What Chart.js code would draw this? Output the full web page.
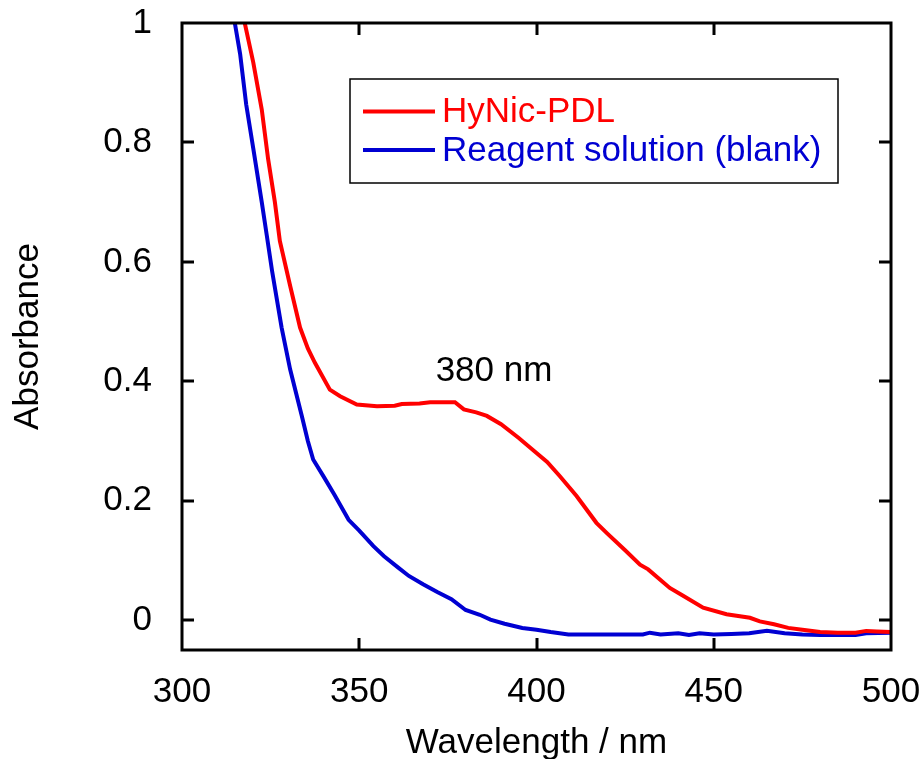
<!DOCTYPE html>
<html>
<head>
<meta charset="utf-8">
<script src="https://cdn.jsdelivr.net/npm/chart.js@4.4.1/dist/chart.umd.min.js"></script>
<style>
  html, body { margin: 0; padding: 0; background: #fff; }
  #wrap { width: 922px; height: 759px; }
</style>
</head>
<body>
<div id="wrap"><canvas id="spectrum" width="922" height="759"></canvas></div>
<script>
// Spectrum data
const hynicX = [317.7, 320.1, 322.5, 324.3, 326.2, 327.6, 330.5, 333.3, 335.5, 337.5, 341.7, 344.6, 349.3, 355, 360, 362, 367, 370, 377,
    379.5, 383, 386, 390, 395, 400, 403, 406.6, 411.3, 416.9, 420, 425, 429.2, 431.5, 437.6, 441, 447, 453.6, 460.2,
    463, 467, 471, 475, 480, 485, 490, 493, 496, 500];
const hynicY = [1.0, 0.934, 0.855, 0.772, 0.70, 0.635, 0.56, 0.49, 0.455, 0.431, 0.386, 0.375, 0.361, 0.358, 0.359, 0.362, 0.363, 0.365, 0.365,
    0.353, 0.348, 0.342, 0.328, 0.305, 0.28, 0.265, 0.241, 0.208, 0.163, 0.145, 0.117, 0.093, 0.085, 0.054, 0.042, 0.021, 0.01, 0.004,
    -0.002, -0.007, -0.013, -0.016, -0.02, -0.021, -0.021, -0.018, -0.019, -0.02];

const blankX = [314.9, 316.4, 318.1, 320.1, 322.5, 323.9, 325.4, 328.1, 330.5, 333.8, 335.5, 337, 340, 343, 347, 350, 354, 357, 361, 364, 368, 372,
    376, 380, 384, 387, 391, 396, 400, 404, 409, 420, 430, 432, 435, 440, 443, 446, 450, 455, 460, 465,
    470, 475, 480, 490, 493, 500];
const blankY = [1.0, 0.948, 0.864, 0.79, 0.70, 0.645, 0.585, 0.49, 0.42, 0.342, 0.300, 0.269, 0.24, 0.21, 0.168, 0.15, 0.124, 0.107, 0.088, 0.074, 0.06, 0.047,
    0.035, 0.017, 0.009, 0.001, -0.006, -0.013, -0.016, -0.02, -0.024, -0.024, -0.024, -0.021, -0.024, -0.022, -0.025, -0.022, -0.024, -0.023, -0.022, -0.018,
    -0.022, -0.024, -0.025, -0.025, -0.022, -0.021];

const seriesNames = ["HyNic-PDL", "Reagent solution (blank)"];
const seriesColors = ["#ff0000", "#0000d2"];
const yTickValues = [0, 0.2, 0.4, 0.6, 0.8, 1];
const xTickValues = [300, 350, 400, 450, 500];

const FONT = "Arial, 'Liberation Sans', sans-serif";
const FONT_SIZE = 35;

function toPoints(xs, ys) {
    return xs.map((x, i) => ({ x: x, y: ys[i] }));
}

// Frame, inward ticks on all four sides, legend box and the peak label
const decorations = {
    id: "decorations",
    afterDraw(chart) {
        const { ctx, chartArea: a, scales } = chart;
        const xs = scales.x, ys = scales.y;
        const tick = 12;
        ctx.save();
        ctx.strokeStyle = "#000";
        ctx.lineWidth = 3;
        ctx.strokeRect(a.left, a.top, a.right - a.left, a.bottom - a.top);

        ctx.beginPath();
        xTickValues.slice(1, -1).forEach(v => {
            const px = Math.round(xs.getPixelForValue(v));
            ctx.moveTo(px, a.bottom); ctx.lineTo(px, a.bottom - tick);
            ctx.moveTo(px, a.top); ctx.lineTo(px, a.top + tick);
        });
        yTickValues.slice(0, -1).forEach(v => {
            const py = Math.round(ys.getPixelForValue(v));
            ctx.moveTo(a.left, py); ctx.lineTo(a.left + tick, py);
            ctx.moveTo(a.right, py); ctx.lineTo(a.right - tick, py);
        });
        ctx.stroke();

        // legend
        ctx.lineWidth = 1.5;
        ctx.strokeRect(350, 79, 488, 104);
        const rows = [111.5, 150];
        ctx.font = FONT_SIZE + "px " + FONT;
        ctx.textBaseline = "middle";
        ctx.textAlign = "left";
        seriesNames.forEach((name, i) => {
            ctx.strokeStyle = seriesColors[i];
            ctx.lineWidth = 4;
            ctx.beginPath();
            ctx.moveTo(363, rows[i]);
            ctx.lineTo(435, rows[i]);
            ctx.stroke();
            ctx.fillStyle = seriesColors[i];
            ctx.fillText(name, 442, rows[i] + 1);
        });

        // peak annotation
        ctx.fillStyle = "#000";
        ctx.textAlign = "center";
        ctx.fillText("380 nm", 494, 371);
        ctx.restore();
    }
};

new Chart(document.getElementById("spectrum"), {
    type: "scatter",
    data: {
        datasets: [
            {
                label: seriesNames[0],
                data: toPoints(hynicX, hynicY),
                showLine: true,
                borderColor: seriesColors[0],
                borderWidth: 4,
                pointRadius: 0,
                tension: 0
            },
            {
                label: seriesNames[1],
                data: toPoints(blankX, blankY),
                showLine: true,
                borderColor: seriesColors[1],
                borderWidth: 4,
                pointRadius: 0,
                tension: 0
            }
        ]
    },
    options: {
        responsive: false,
        animation: false,
        layout: { padding: { top: 23, right: 31, left: 0, bottom: 0 } },
        plugins: {
            legend: { display: false },
            tooltip: { enabled: false }
        },
        scales: {
            x: {
                type: "linear",
                min: 300,
                max: 500,
                afterBuildTicks: s => { s.ticks = xTickValues.map(v => ({ value: v })); },
                afterFit: s => {
                    s.height = 109;
                    s.paddingLeft = 0;
                    s.paddingRight = 0;
                },
                grid: { display: false },
                border: { display: false },
                ticks: {
                    color: "#000",
                    font: { family: FONT, size: FONT_SIZE },
                    padding: 13,
                    maxRotation: 0
                },
                title: {
                    display: true,
                    text: "Wavelength / nm",
                    color: "#000",
                    font: { family: FONT, size: FONT_SIZE },
                    padding: { top: 9, bottom: -5 }
                }
            },
            y: {
                min: -0.05,
                max: 1,
                afterBuildTicks: s => { s.ticks = yTickValues.map(v => ({ value: v })); },
                afterFit: s => {
                    s.width = 182;
                    s.paddingTop = 0;
                    s.paddingBottom = 0;
                },
                grid: { display: false },
                border: { display: false },
                ticks: {
                    color: "#000",
                    font: { family: FONT, size: FONT_SIZE },
                    padding: 22,
                    callback: v => String(Math.round(v * 10) / 10)
                },
                title: {
                    display: true,
                    text: "Absorbance",
                    color: "#000",
                    font: { family: FONT, size: FONT_SIZE },
                    padding: { top: 7, bottom: 0 }
                }
            }
        }
    },
    plugins: [decorations]
});
</script>
</body>
</html>
